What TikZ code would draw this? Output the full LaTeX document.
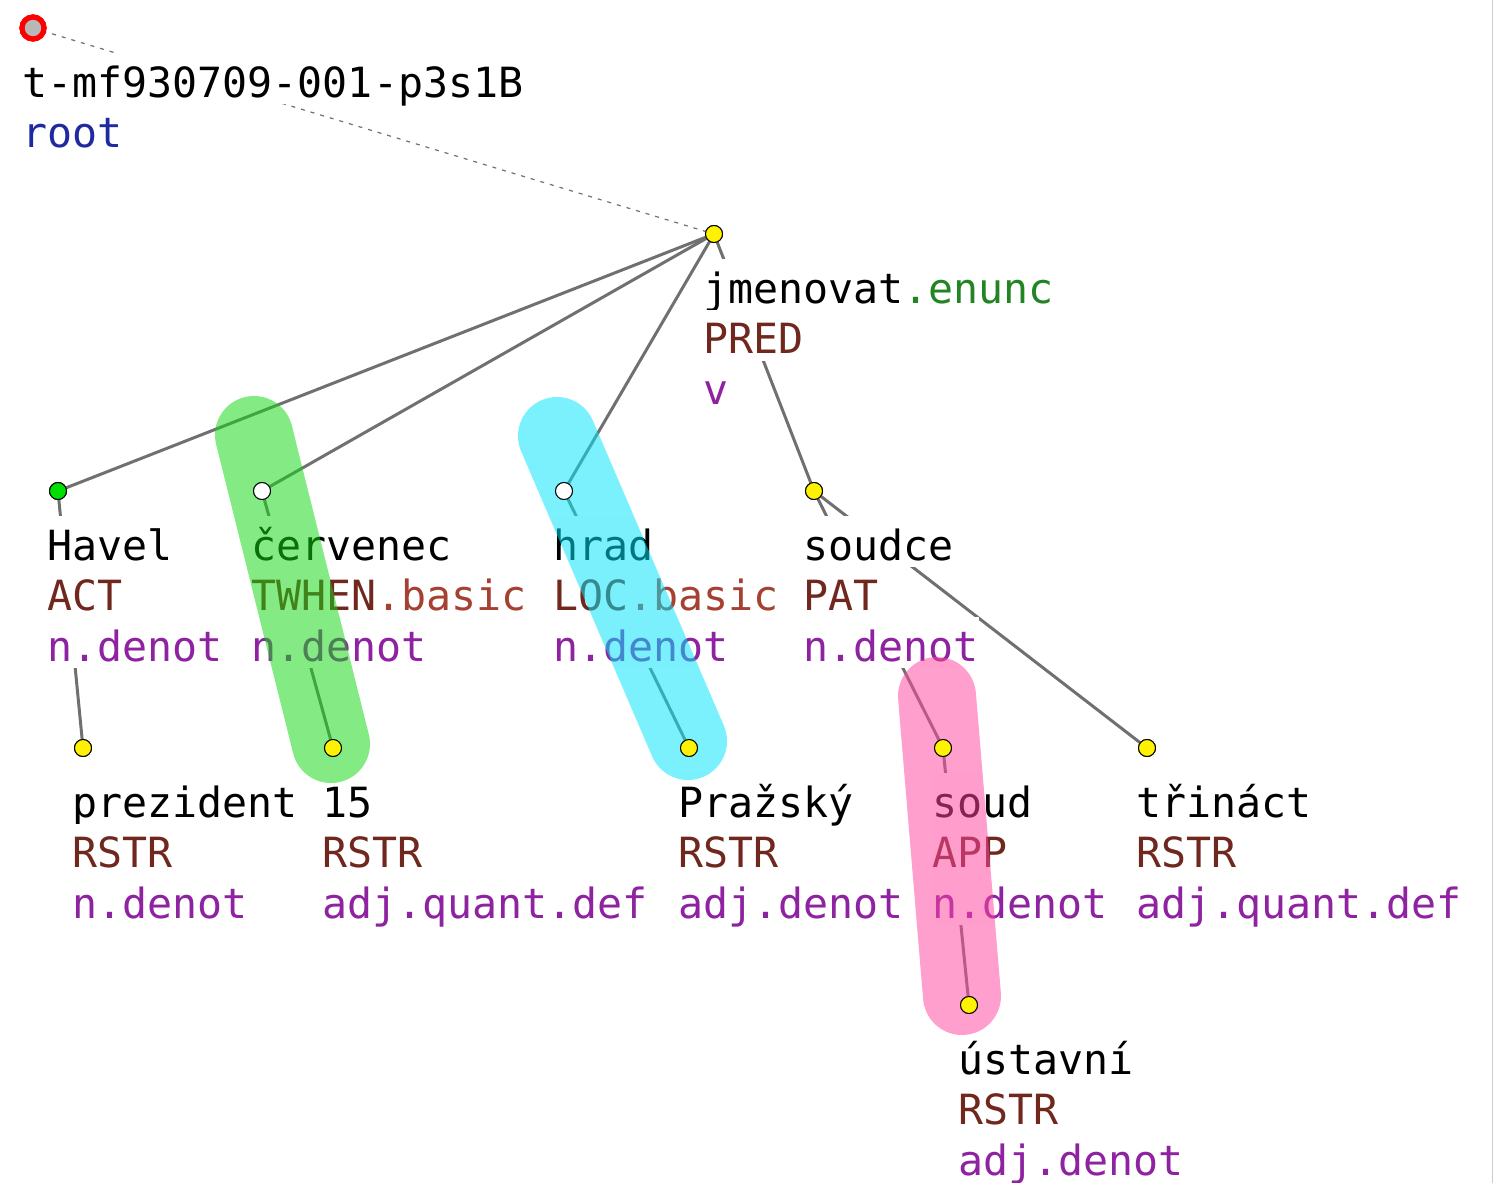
\documentclass[tikz,border=0pt]{standalone}
\usepackage{fontspec}
\setmonofont{DejaVu Sans Mono}
\newcommand\treefont{\fontsize{20.8}{25}\selectfont\ttfamily}

\definecolor{edgegray}{RGB}{112,112,112}
\definecolor{rootblue}{RGB}{32,42,160}
\definecolor{enuncgreen}{RGB}{34,132,34}
\definecolor{functorbrown}{RGB}{112,40,30}
\definecolor{basicbrown}{RGB}{165,65,48}
\definecolor{sempurple}{RGB}{142,34,160}
\definecolor{dotgreen}{RGB}{0,224,0}
\definecolor{hlgreen}{RGB}{20,215,20}
\definecolor{hlcyan}{RGB}{0,228,250}
\definecolor{hlpink}{RGB}{255,70,160}

\tikzset{
  tnode/.style={circle, draw=black, line width=0.5pt, minimum size=8.5pt, inner sep=0pt},
  rootnode/.style={circle, draw=red, fill=black!28, line width=2.6pt, minimum size=11pt, inner sep=0pt},
  tedge/.style={draw=edgegray, line width=1.5pt},
  rootedge/.style={draw=edgegray, line width=0.6pt, dash pattern=on 2pt off 3pt},
  tline/.style={anchor=base west, fill=white, inner sep=0pt, text height=22pt, text depth=3.5pt, font=\treefont},
  hilite/.style={line width=39pt, line cap=round, draw opacity=0.52}
}

\begin{document}
\begin{tikzpicture}[x=0.5pt, y=-0.5pt]
    \useasboundingbox (0,0) rectangle (1495,1183);
    \draw[black!20, line width=0.5pt] (1492,0) to (1492,1183);

    % tree nodes
    \node[rootnode] (root) at (33,28) {};
    \node[tnode, fill=yellow] (jm) at (714,234) {};
    \node[tnode, fill=dotgreen] (havel) at (58,491) {};
    \node[tnode, fill=white] (cerv) at (262,491) {};
    \node[tnode, fill=white] (hrad) at (564,491) {};
    \node[tnode, fill=yellow] (soudce) at (814,491) {};
    \node[tnode, fill=yellow] (prez) at (83,748) {};
    \node[tnode, fill=yellow] (n15) at (333,748) {};
    \node[tnode, fill=yellow] (praz) at (689,748) {};
    \node[tnode, fill=yellow] (soud) at (943,748) {};
    \node[tnode, fill=yellow] (trin) at (1147,748) {};
    \node[tnode, fill=yellow] (ust) at (969,1005) {};

    % edges
    \draw[rootedge] (root.center) to (jm.center);
    \draw[tedge] (jm.center) to (havel.center);
    \draw[tedge] (jm.center) to (cerv.center);
    \draw[tedge] (jm.center) to (hrad.center);
    \draw[tedge] (jm.center) to (soudce.center);
    \draw[tedge] (havel.center) to (prez.center);
    \draw[tedge] (cerv.center) to (n15.center);
    \draw[tedge] (hrad.center) to (praz.center);
    \draw[tedge] (soudce.center) to (soud.center);
    \draw[tedge] (soudce.center) to (trin.center);
    \draw[tedge] (soud.center) to (ust.center);

    % labels
    \node[tline] (rootA) at (22,97) {t-mf930709-001-p3s1B};
    \node[tline, text=rootblue] (rootB) at (22,147.5) {root};

    \node[tline] (jmA) at (703,303) {jmenovat\textcolor{enuncgreen}{.enunc}};
    \node[tline, text=functorbrown] (jmB) at (703,353.5) {PRED};
    \node[tline, text=sempurple] (jmC) at (703,404) {v};

    \node[tline] (havelA) at (47,560) {Havel};
    \node[tline, text=functorbrown] (havelB) at (47,610.5) {ACT};
    \node[tline, text=sempurple] (havelC) at (47,661) {n.denot};

    \node[tline] (cervA) at (251,560) {červenec};
    \node[tline, text=functorbrown] (cervB) at (251,610.5) {TWHEN\textcolor{basicbrown}{.basic}};
    \node[tline, text=sempurple] (cervC) at (251,661) {n.denot};

    \node[tline] (hradA) at (553,560) {hrad};
    \node[tline, text=functorbrown] (hradB) at (553,610.5) {LOC\textcolor{basicbrown}{.basic}};
    \node[tline, text=sempurple] (hradC) at (553,661) {n.denot};

    \node[tline] (soudceA) at (803,560) {soudce};
    \node[tline, text=functorbrown] (soudceB) at (803,610.5) {PAT};
    \node[tline, text=sempurple] (soudceC) at (803,661) {n.denot};

    \node[tline] (prezA) at (72,817) {prezident};
    \node[tline, text=functorbrown] (prezB) at (72,867.5) {RSTR};
    \node[tline, text=sempurple] (prezC) at (72,918) {n.denot};

    \node[tline] (n15A) at (322,817) {15};
    \node[tline, text=functorbrown] (n15B) at (322,867.5) {RSTR};
    \node[tline, text=sempurple] (n15C) at (322,918) {adj.quant.def};

    \node[tline] (prazA) at (678,817) {Pražský};
    \node[tline, text=functorbrown] (prazB) at (678,867.5) {RSTR};
    \node[tline, text=sempurple] (prazC) at (678,918) {adj.denot};

    \node[tline] (soudA) at (932,817) {soud};
    \node[tline, text=functorbrown] (soudB) at (932,867.5) {APP};
    \node[tline, text=sempurple] (soudC) at (932,918) {n.denot};

    \node[tline] (trinA) at (1136,817) {třináct};
    \node[tline, text=functorbrown] (trinB) at (1136,867.5) {RSTR};
    \node[tline, text=sempurple] (trinC) at (1136,918) {adj.quant.def};

    \node[tline] (ustA) at (958,1074) {ústavní};
    \node[tline, text=functorbrown] (ustB) at (958,1124.5) {RSTR};
    \node[tline, text=sempurple] (ustC) at (958,1175) {adj.denot};

    % highlighted pairs
    \coordinate (greenTop) at (254,435);
    \coordinate (greenBot) at (331,744);
    \coordinate (cyanTop) at (557,436);
    \coordinate (cyanBot) at (688,741);
    \coordinate (pinkTop) at (937,696);
    \coordinate (pinkBot) at (962,996);
    \draw[hilite, draw=hlgreen] (greenTop) to (greenBot);
    \draw[hilite, draw=hlcyan] (cyanTop) to (cyanBot);
    \draw[hilite, draw=hlpink] (pinkTop) to (pinkBot);

    % circles again on top of the highlights
    \node[tnode, fill=white] at (cerv) {};
    \node[tnode, fill=white] at (hrad) {};
    \node[tnode, fill=yellow] at (n15) {};
    \node[tnode, fill=yellow] at (praz) {};
    \node[tnode, fill=yellow] at (soud) {};
    \node[tnode, fill=yellow] at (ust) {};
    \node[tnode, fill=yellow] at (jm) {};
    \node[tnode, fill=dotgreen] at (havel) {};
    \node[tnode, fill=yellow] at (soudce) {};
    \node[tnode, fill=yellow] at (prez) {};
    \node[tnode, fill=yellow] at (trin) {};
    \node[rootnode] at (root) {};
\end{tikzpicture}
\end{document}
